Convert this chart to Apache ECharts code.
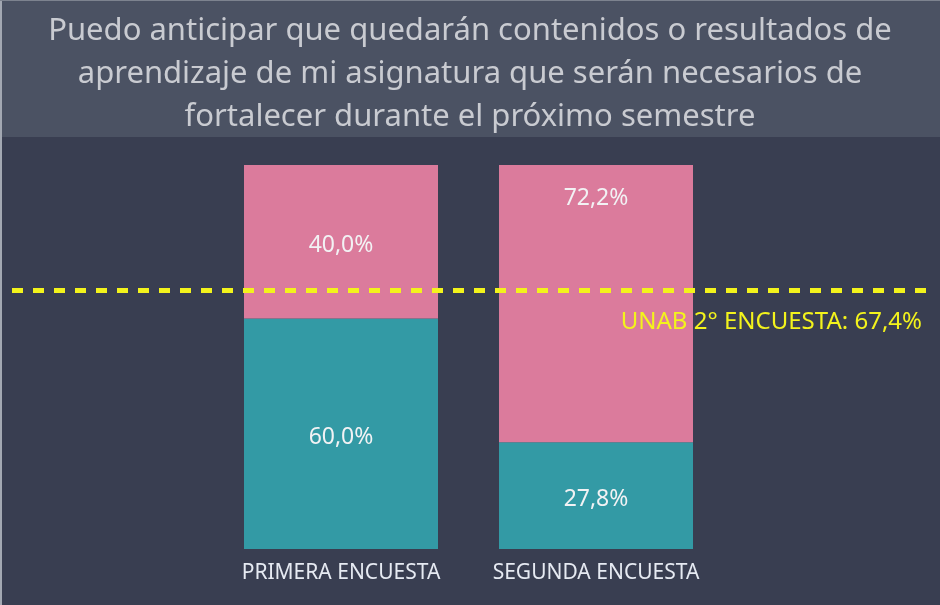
<!DOCTYPE html>
<html>
<head>
<meta charset="utf-8">
<script src="https://cdn.jsdelivr.net/npm/echarts@6/dist/echarts.min.js"></script>
<style>
  html, body { margin: 0; padding: 0; background: #393e51; }
  #chart { width: 940px; height: 605px; }
</style>
</head>
<body>
<div id="chart"></div>
<script>
// datos de la encuesta
const categories = ['PRIMERA ENCUESTA', 'SEGUNDA ENCUESTA']
const acuerdo = [60.0, 27.8]      // teal (abajo)
const desacuerdo = [40.0, 72.2]   // rosado (arriba)
const referencia = 67.4
const referenciaLabel = 'UNAB 2° ENCUESTA: 67,4%'

const fmt = v => v.toFixed(1).replace('.', ',') + '%'

const chart = echarts.init(document.getElementById('chart'))

const labelStyle = {
  show: true,
  position: 'inside',
  offset: [0, 4],
  color: '#f2f2f4',
  fontSize: 23,
  formatter: p => fmt(p.value)
}

const option = {
  backgroundColor: '#393e51',
  animation: false,
  textStyle: { fontFamily: 'Noto Sans' },
  graphic: [
    { type: 'rect', shape: { x: 0, y: 0, width: 940, height: 137 }, style: { fill: '#4b5263' }, z: -10 },
    { type: 'rect', shape: { x: 0, y: 0, width: 2, height: 605 }, style: { fill: '#a3a8b2' }, z: 10 },
    { type: 'rect', shape: { x: 0, y: 0, width: 940, height: 1 }, style: { fill: '#7d838f' }, z: 10 }
  ],
  title: {
    text: 'Puedo anticipar que quedarán contenidos o resultados de\naprendizaje de mi asignatura que serán necesarios de\nfortalecer durante el próximo semestre',
    left: 'center',
    top: 5,
    textStyle: {
      color: '#c9cbd1',
      fontSize: 31,
      fontWeight: 'normal',
      lineHeight: 43,
      align: 'center'
    }
  },
  grid: { left: 213.5, right: 216.5, top: 165, bottom: 56 },
  xAxis: {
    type: 'category',
    data: categories,
    axisLine: { show: false },
    axisTick: { show: false },
    axisLabel: { color: '#e6eaf2', fontSize: 21, margin: 14, interval: 0 }
  },
  yAxis: {
    type: 'value',
    min: 0,
    max: 100,
    show: false,
    splitLine: { show: false }
  },
  series: [
    {
      name: 'acuerdo',
      type: 'bar',
      stack: 'total',
      barWidth: 194,
      data: acuerdo,
      itemStyle: { color: '#339aa5' },
      label: labelStyle
    },
    {
      name: 'desacuerdo',
      type: 'bar',
      stack: 'total',
      barWidth: 194,
      data: desacuerdo.map((v, i) => i === 1
        ? { value: v, label: { position: 'insideTop', distance: 18 } }
        : v),
      itemStyle: { color: '#db7b9c' },
      label: labelStyle,
      markLine: {
        silent: true,
        symbol: 'none',
        z: 10,
        lineStyle: { color: '#f3f31c', width: 5, type: [11, 10] },
        label: {
          show: true,
          position: 'insideEndBottom',
          formatter: referenciaLabel,
          color: '#f3f31c',
          fontSize: 24,
          distance: [12, 20]
        },
        data: [[{ x: 12, yAxis: referencia }, { x: 934, yAxis: referencia }]]
      }
    }
  ]
}

chart.setOption(option)
</script>
</body>
</html>
